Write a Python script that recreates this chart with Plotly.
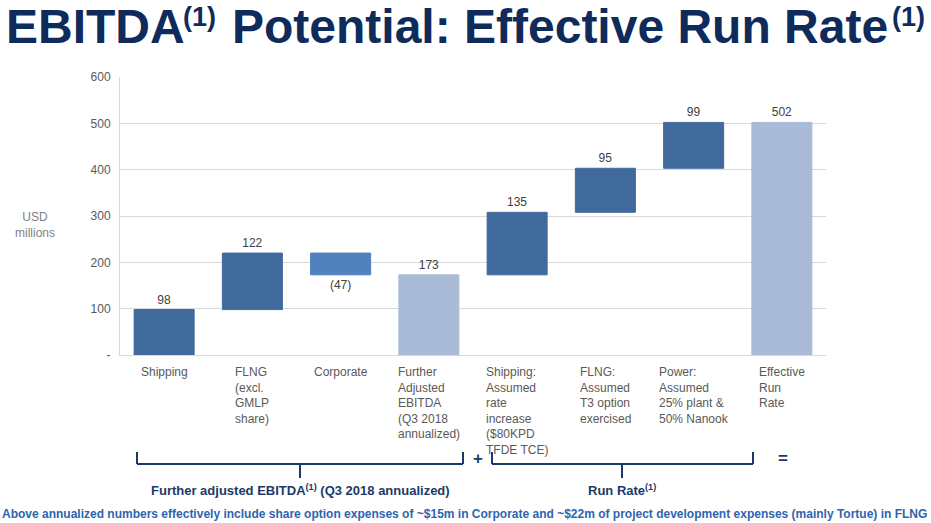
import plotly.graph_objects as go

# ---- data ----
categories = ["Shipping", "FLNG (excl. GMLP share)", "Corporate", "Further Adjusted EBITDA",
              "Shipping: rate increase", "FLNG: T3 option", "Power", "Effective Run Rate"]
category_labels = [
    "Shipping",
    "FLNG<br>(excl.<br>GMLP<br>share)",
    "Corporate",
    "Further<br>Adjusted<br>EBITDA<br>(Q3 2018<br>annualized)",
    "Shipping:<br>Assumed<br>rate<br>increase<br>($80KPD<br>TFDE TCE)",
    "FLNG:<br>Assumed<br>T3 option<br>exercised",
    "Power:<br>Assumed<br>25% plant &<br>50% Nanook",
    "Effective<br>Run<br>Rate",
]
measures = ["relative", "relative", "relative", "total", "relative", "relative", "relative", "total"]
values = [98, 122, -47, 0, 135, 95, 99, 0]
y_tickvals = [0, 100, 200, 300, 400, 500, 600]
y_ticktext = ["-", "100", "200", "300", "400", "500", "600"]

# labels from running totals
labels = []
running = 0
for m, v in zip(measures, values):
    if m == "total":
        labels.append(f"{running:d}")
    else:
        running += v
        labels.append(f"({abs(v)})" if v < 0 else f"{v}")

DARK = "#416A9C"
MID = "#4F81BD"
LIGHT = "#AABBD8"
NAVY = "#1B3A6B"
TITLE = "#0E2B5C"
GRAY = "#595959"
FONT = "Liberation Sans, Arial, sans-serif"

fig = go.Figure(go.Waterfall(
    x=categories,
    y=values,
    measure=measures,
    text=labels,
    textposition="outside",
    textfont=dict(family=FONT, size=12, color="#404040"),
    increasing=dict(marker=dict(color=DARK, line=dict(color=DARK, width=1))),
    decreasing=dict(marker=dict(color=MID, line=dict(color=MID, width=1))),
    totals=dict(marker=dict(color=LIGHT, line=dict(color=LIGHT, width=1))),
    connector=dict(visible=False),
    cliponaxis=False,
    showlegend=False,
))

W, H = 931, 523
L, R, T, B = 120, 105, 77, 168
PW, PH = W - L - R, H - T - B


def px(xp):
    return (xp - L) / PW


def py(yp):
    return (H - B - yp) / PH


def note(xp, yp, text, size, color, **kw):
    d = dict(x=px(xp), xref="paper", y=py(yp), yref="paper", text=text, showarrow=False,
             xanchor="center", yanchor="middle", font=dict(family=FONT, size=size, color=color))
    d.update(kw)
    return d


annotations = []
# category labels (left aligned blocks, centered under bars)
for cat, lab in zip(categories, category_labels):
    annotations.append(dict(x=cat, xref="x", y=py(363), yref="paper", text=lab,
                            showarrow=False, xanchor="center", yanchor="top", align="left",
                            font=dict(family=FONT, size=12, color=GRAY)))

# axis title
annotations.append(note(35, 225, "USD<br>millions", 12, "#7F7F7F", align="center"))

# plus / equals
annotations.append(note(478, 459, "<b>+</b>", 17, NAVY))
annotations.append(note(783, 459, "<b>=</b>", 17, NAVY))

# bracket captions
annotations.append(note(300, 490, "<b>Further adjusted EBITDA<sup>(1)</sup> (Q3 2018 annualized)</b>", 13, NAVY))
annotations.append(note(622, 490, "<b>Run Rate<sup>(1)</sup></b>", 13, NAVY))

# footnote
annotations.append(note(464, 514,
                        "<b>Above annualized numbers effectively include share option expenses of ~$15m in Corporate and ~$22m of project development expenses (mainly Tortue) in FLNG</b>",
                        12, "#2E64B0"))

# title (main words + superscript markers)
annotations.append(note(4, 26, "<b>EBITDA</b>", 48, TITLE, xanchor="left"))
annotations.append(note(181, 17, "<b>(1)</b>", 27, TITLE, xanchor="left"))
annotations.append(note(230, 26, "<b>Potential: Effective Run Rate</b>", 48, TITLE, xanchor="left"))
annotations.append(note(890, 17, "<b>(1)</b>", 27, TITLE, xanchor="left"))

shapes = []
line = dict(color=NAVY, width=2)


def bracket(x0, x1, xc):
    top, bot, tick = 452, 464, 478
    return [
        dict(type="line", xref="paper", yref="paper", x0=px(x0), x1=px(x0), y0=py(top), y1=py(bot), line=line),
        dict(type="line", xref="paper", yref="paper", x0=px(x0), x1=px(x1), y0=py(bot), y1=py(bot), line=line),
        dict(type="line", xref="paper", yref="paper", x0=px(x1), x1=px(x1), y0=py(top), y1=py(bot), line=line),
        dict(type="line", xref="paper", yref="paper", x0=px(xc), x1=px(xc), y0=py(bot), y1=py(tick), line=line),
    ]


shapes += bracket(137, 463, 300)
shapes += bracket(492, 753, 622)

fig.update_layout(
    width=W, height=H,
    margin=dict(l=L, r=R, t=T, b=B),
    paper_bgcolor="white", plot_bgcolor="white",
    waterfallgap=0.32,
    font=dict(family=FONT),
    xaxis=dict(showticklabels=False, showgrid=False, showline=True, linecolor="#D9D9D9",
               ticks="", zeroline=False),
    yaxis=dict(range=[0, 600], tickvals=y_tickvals, ticktext=y_ticktext,
               tickfont=dict(family=FONT, size=12, color=GRAY), ticklabelstandoff=6,
               showgrid=True, gridcolor="#D9D9D9", gridwidth=1,
               showline=True, linecolor="#D9D9D9", zeroline=False, ticks=""),
    annotations=annotations,
    shapes=shapes,
)

fig.write_html("out.html", config={"displayModeBar": False},
               post_script="document.body.style.margin='0';document.body.style.overflow='hidden';")
